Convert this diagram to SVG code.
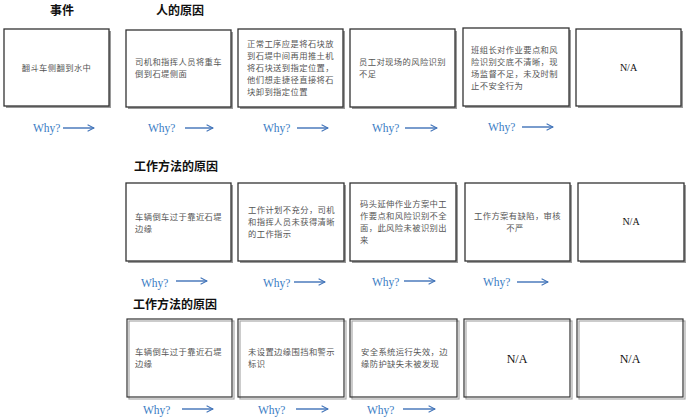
<svg xmlns="http://www.w3.org/2000/svg" width="689" height="420" viewBox="0 0 689 420">
<defs>
<style>
.shadow{fill:#9a9a9a;}
.box{fill:#fff;stroke:#333;stroke-width:1.3;}
.dbl{fill:none;stroke:#aaa;stroke-width:1.2;}
.dbox{fill:none;stroke:#333;stroke-width:1.2;}
.t{font-family:"Noto Sans CJK SC",sans-serif;font-size:8.3px;letter-spacing:0.4px;fill:#555;}
.c{text-anchor:middle;}
.na{font-family:"Liberation Serif",serif;font-size:10px;fill:#111;text-anchor:middle;}
.na2{font-family:"Liberation Serif",serif;font-size:12px;fill:#111;text-anchor:middle;}
.h{font-family:"Noto Sans CJK SC",sans-serif;font-size:12px;font-weight:bold;fill:#111;}
.why{font-family:"Liberation Serif",serif;font-size:11.5px;fill:#3a7cc4;}
.arr{stroke:#3f72b8;stroke-width:1.4;fill:none;}
</style>
<marker id="ah" viewBox="0 0 10 10" refX="9" refY="5" markerWidth="8" markerHeight="8" markerUnits="userSpaceOnUse" orient="auto">
<path d="M1,1 L9,5 L1,9" fill="none" stroke="#3f72b8" stroke-width="1.3"/>
</marker>
</defs>
<rect width="689" height="420" fill="#fff"/>

<g id="headers">
<text class="h" x="62" y="15" text-anchor="middle">事件</text>
<text class="h" x="180" y="15" text-anchor="middle">人的原因</text>
<text class="h" x="134" y="171">工作方法的原因</text>
<text class="h" x="133" y="309">工作方法的原因</text>
</g>

<!-- Row 1 -->
<g id="t1"><rect class="shadow" x="6" y="31" width="105" height="77"/><rect class="box" x="4" y="29" width="105" height="77"/>
<text class="t c" x="56.5" y="71">翻斗车侧翻到水中</text></g>
<g id="t2"><rect class="shadow" x="128" y="32" width="105" height="77"/><rect class="box" x="126" y="30" width="105" height="77"/>
<text class="t" x="135" y="65">司机和指挥人员将重车</text><text class="t" x="135" y="77">倒到石堤侧面</text></g>
<g id="t3"><rect class="shadow" x="240" y="31" width="105" height="78"/><rect class="box" x="238" y="29" width="105" height="78"/>
<text class="t" x="247" y="47">正常工序应是将石块放</text><text class="t" x="247" y="59">到石堤中间再用推土机</text><text class="t" x="247" y="71">将石块送到指定位置，</text><text class="t" x="247" y="83">他们想走捷径直接将石</text><text class="t" x="247" y="95">块卸到指定位置</text></g>
<g id="t4"><rect class="shadow" x="352" y="31" width="105" height="78"/><rect class="box" x="350" y="29" width="105" height="78"/>
<text class="t" x="359" y="65">员工对现场的风险识别</text><text class="t" x="359" y="77">不足</text></g>
<g id="t5"><rect class="shadow" x="465" y="30" width="106" height="78"/><rect class="box" x="463" y="28" width="106" height="78"/>
<text class="t" x="471" y="53">班组长对作业要点和风</text><text class="t" x="471" y="65">险识别交底不清晰，现</text><text class="t" x="471" y="77">场监督不足，未及时制</text><text class="t" x="471" y="89">止不安全行为</text></g>
<g id="t6"><rect class="shadow" x="578" y="31" width="105" height="77"/><rect class="box" x="576" y="29" width="105" height="77"/>
<text class="na" x="628.5" y="71">N/A</text></g>

<!-- Row 2 -->
<g id="m1"><rect class="shadow" x="128" y="185" width="105" height="78"/><rect class="box" x="126" y="183" width="105" height="78"/>
<text class="t" x="135" y="220">车辆倒车过于靠近石堤</text><text class="t" x="135" y="232">边缘</text></g>
<g id="m2"><rect class="shadow" x="240" y="185" width="106" height="78"/><rect class="box" x="238" y="183" width="106" height="78"/>
<text class="t" x="248" y="213">工作计划不充分，司机</text><text class="t" x="248" y="225">和指挥人员未获得清晰</text><text class="t" x="248" y="237">的工作指示</text></g>
<g id="m3"><rect class="shadow" x="352" y="185" width="106" height="78"/><rect class="box" x="350" y="183" width="106" height="78"/>
<text class="t" x="360" y="207">码头延伸作业方案中工</text><text class="t" x="360" y="219">作要点和风险识别不全</text><text class="t" x="360" y="231">面，此风险未被识别出</text><text class="t" x="360" y="243">来</text></g>
<g id="m4"><rect class="shadow" x="467" y="185" width="105" height="78"/><rect class="box" x="465" y="183" width="105" height="78"/>
<text class="t c" x="517.5" y="219">工作方案有缺陷，审核</text><text class="t c" x="515" y="231">不严</text></g>
<g id="m5"><rect class="shadow" x="580" y="185" width="106" height="78"/><rect class="box" x="578" y="183" width="106" height="78"/>
<text class="na" x="631" y="225">N/A</text></g>

<!-- Row 3 -->
<g id="b1"><rect class="dbl" x="129" y="321" width="105" height="78"/><rect class="dbox" x="127" y="319" width="105" height="78"/>
<text class="t" x="135" y="355">车辆倒车过于靠近石堤</text><text class="t" x="135" y="367">边缘</text></g>
<g id="b2"><rect class="dbl" x="240" y="321" width="106" height="78"/><rect class="dbox" x="238" y="319" width="106" height="78"/>
<text class="t" x="248" y="355">未设置边缘围挡和警示</text><text class="t" x="248" y="367">标识</text></g>
<g id="b3"><rect class="dbl" x="352" y="321" width="107" height="78"/><rect class="dbox" x="350" y="319" width="107" height="78"/>
<text class="t" x="361" y="355">安全系统运行失效，边</text><text class="t" x="361" y="367">缘防护缺失未被发现</text></g>
<g id="b4"><rect class="dbl" x="466" y="321" width="106" height="78"/><rect class="dbox" x="464" y="319" width="106" height="78"/>
<text class="na2" x="517" y="363">N/A</text></g>
<g id="b5"><rect class="dbl" x="579" y="321" width="106" height="78"/><rect class="dbox" x="577" y="319" width="106" height="78"/>
<text class="na2" x="630" y="363">N/A</text></g>

<g id="connectors">
<text class="why" x="33" y="132">Why?</text><line class="arr" x1="63" y1="128" x2="94" y2="128" marker-end="url(#ah)"/>
<text class="why" x="148" y="132">Why?</text><line class="arr" x1="185" y1="128" x2="213" y2="128" marker-end="url(#ah)"/>
<text class="why" x="263" y="132">Why?</text><line class="arr" x1="297" y1="128" x2="328" y2="128" marker-end="url(#ah)"/>
<text class="why" x="372" y="132">Why?</text><line class="arr" x1="405" y1="128" x2="437" y2="128" marker-end="url(#ah)"/>
<text class="why" x="488" y="131">Why?</text><line class="arr" x1="522" y1="127" x2="553" y2="127" marker-end="url(#ah)"/>

<text class="why" x="141" y="287">Why?</text><line class="arr" x1="176" y1="281" x2="207" y2="281" marker-end="url(#ah)"/>
<text class="why" x="263" y="287">Why?</text><line class="arr" x1="294" y1="282" x2="325" y2="282" marker-end="url(#ah)"/>
<text class="why" x="372" y="286">Why?</text><line class="arr" x1="404" y1="281" x2="435" y2="281" marker-end="url(#ah)"/>
<text class="why" x="483" y="286">Why?</text><line class="arr" x1="517" y1="282" x2="548" y2="282" marker-end="url(#ah)"/>

<text class="why" x="143" y="414">Why?</text><line class="arr" x1="182" y1="409" x2="213" y2="409" marker-end="url(#ah)"/>
<text class="why" x="258" y="414">Why?</text><line class="arr" x1="296" y1="409" x2="328" y2="409" marker-end="url(#ah)"/>
<text class="why" x="367" y="414">Why?</text><line class="arr" x1="403" y1="409" x2="435" y2="409" marker-end="url(#ah)"/>
</g>
</svg>
